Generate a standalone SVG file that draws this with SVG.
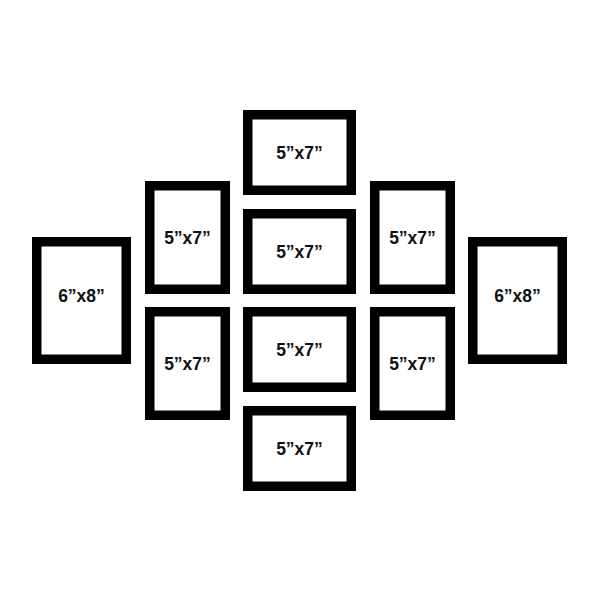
<svg xmlns="http://www.w3.org/2000/svg" width="600" height="600" viewBox="0 0 600 600">
<style>
.f{fill:#fff;stroke:#000;stroke-width:9.5}
.t{font-family:"Liberation Sans",Arial,sans-serif;font-weight:bold;font-size:17.5px;fill:#111;text-anchor:middle}
</style>
<rect width="600" height="600" fill="#fff"/>
<g id="a"><rect class="f" x="36.75" y="241.75" width="89.5" height="117.5"/><text class="t" x="81.5" y="302">6”x8”</text></g>
<g id="b"><rect class="f" x="149.75" y="185.75" width="75.5" height="103.5"/><text class="t" x="187.5" y="244">5”x7”</text></g>
<g id="c"><rect class="f" x="149.75" y="311.75" width="75.5" height="103.5"/><text class="t" x="187.5" y="370">5”x7”</text></g>
<g id="d"><rect class="f" x="247.75" y="114.75" width="103.5" height="75.5"/><text class="t" x="299.5" y="159">5”x7”</text></g>
<g id="e"><rect class="f" x="247.75" y="213.75" width="103.5" height="75.5"/><text class="t" x="299.5" y="258">5”x7”</text></g>
<g id="f"><rect class="f" x="247.75" y="311.75" width="103.5" height="75.5"/><text class="t" x="299.5" y="356">5”x7”</text></g>
<g id="g"><rect class="f" x="247.75" y="410.75" width="103.5" height="75.5"/><text class="t" x="299.5" y="455">5”x7”</text></g>
<g id="h"><rect class="f" x="374.75" y="185.75" width="75.5" height="103.5"/><text class="t" x="412.5" y="244">5”x7”</text></g>
<g id="i"><rect class="f" x="374.75" y="311.75" width="75.5" height="103.5"/><text class="t" x="412.5" y="370">5”x7”</text></g>
<g id="j"><rect class="f" x="472.75" y="241.75" width="89.5" height="117.5"/><text class="t" x="517.5" y="302">6”x8”</text></g>
<g id="connectors"></g>
</svg>
